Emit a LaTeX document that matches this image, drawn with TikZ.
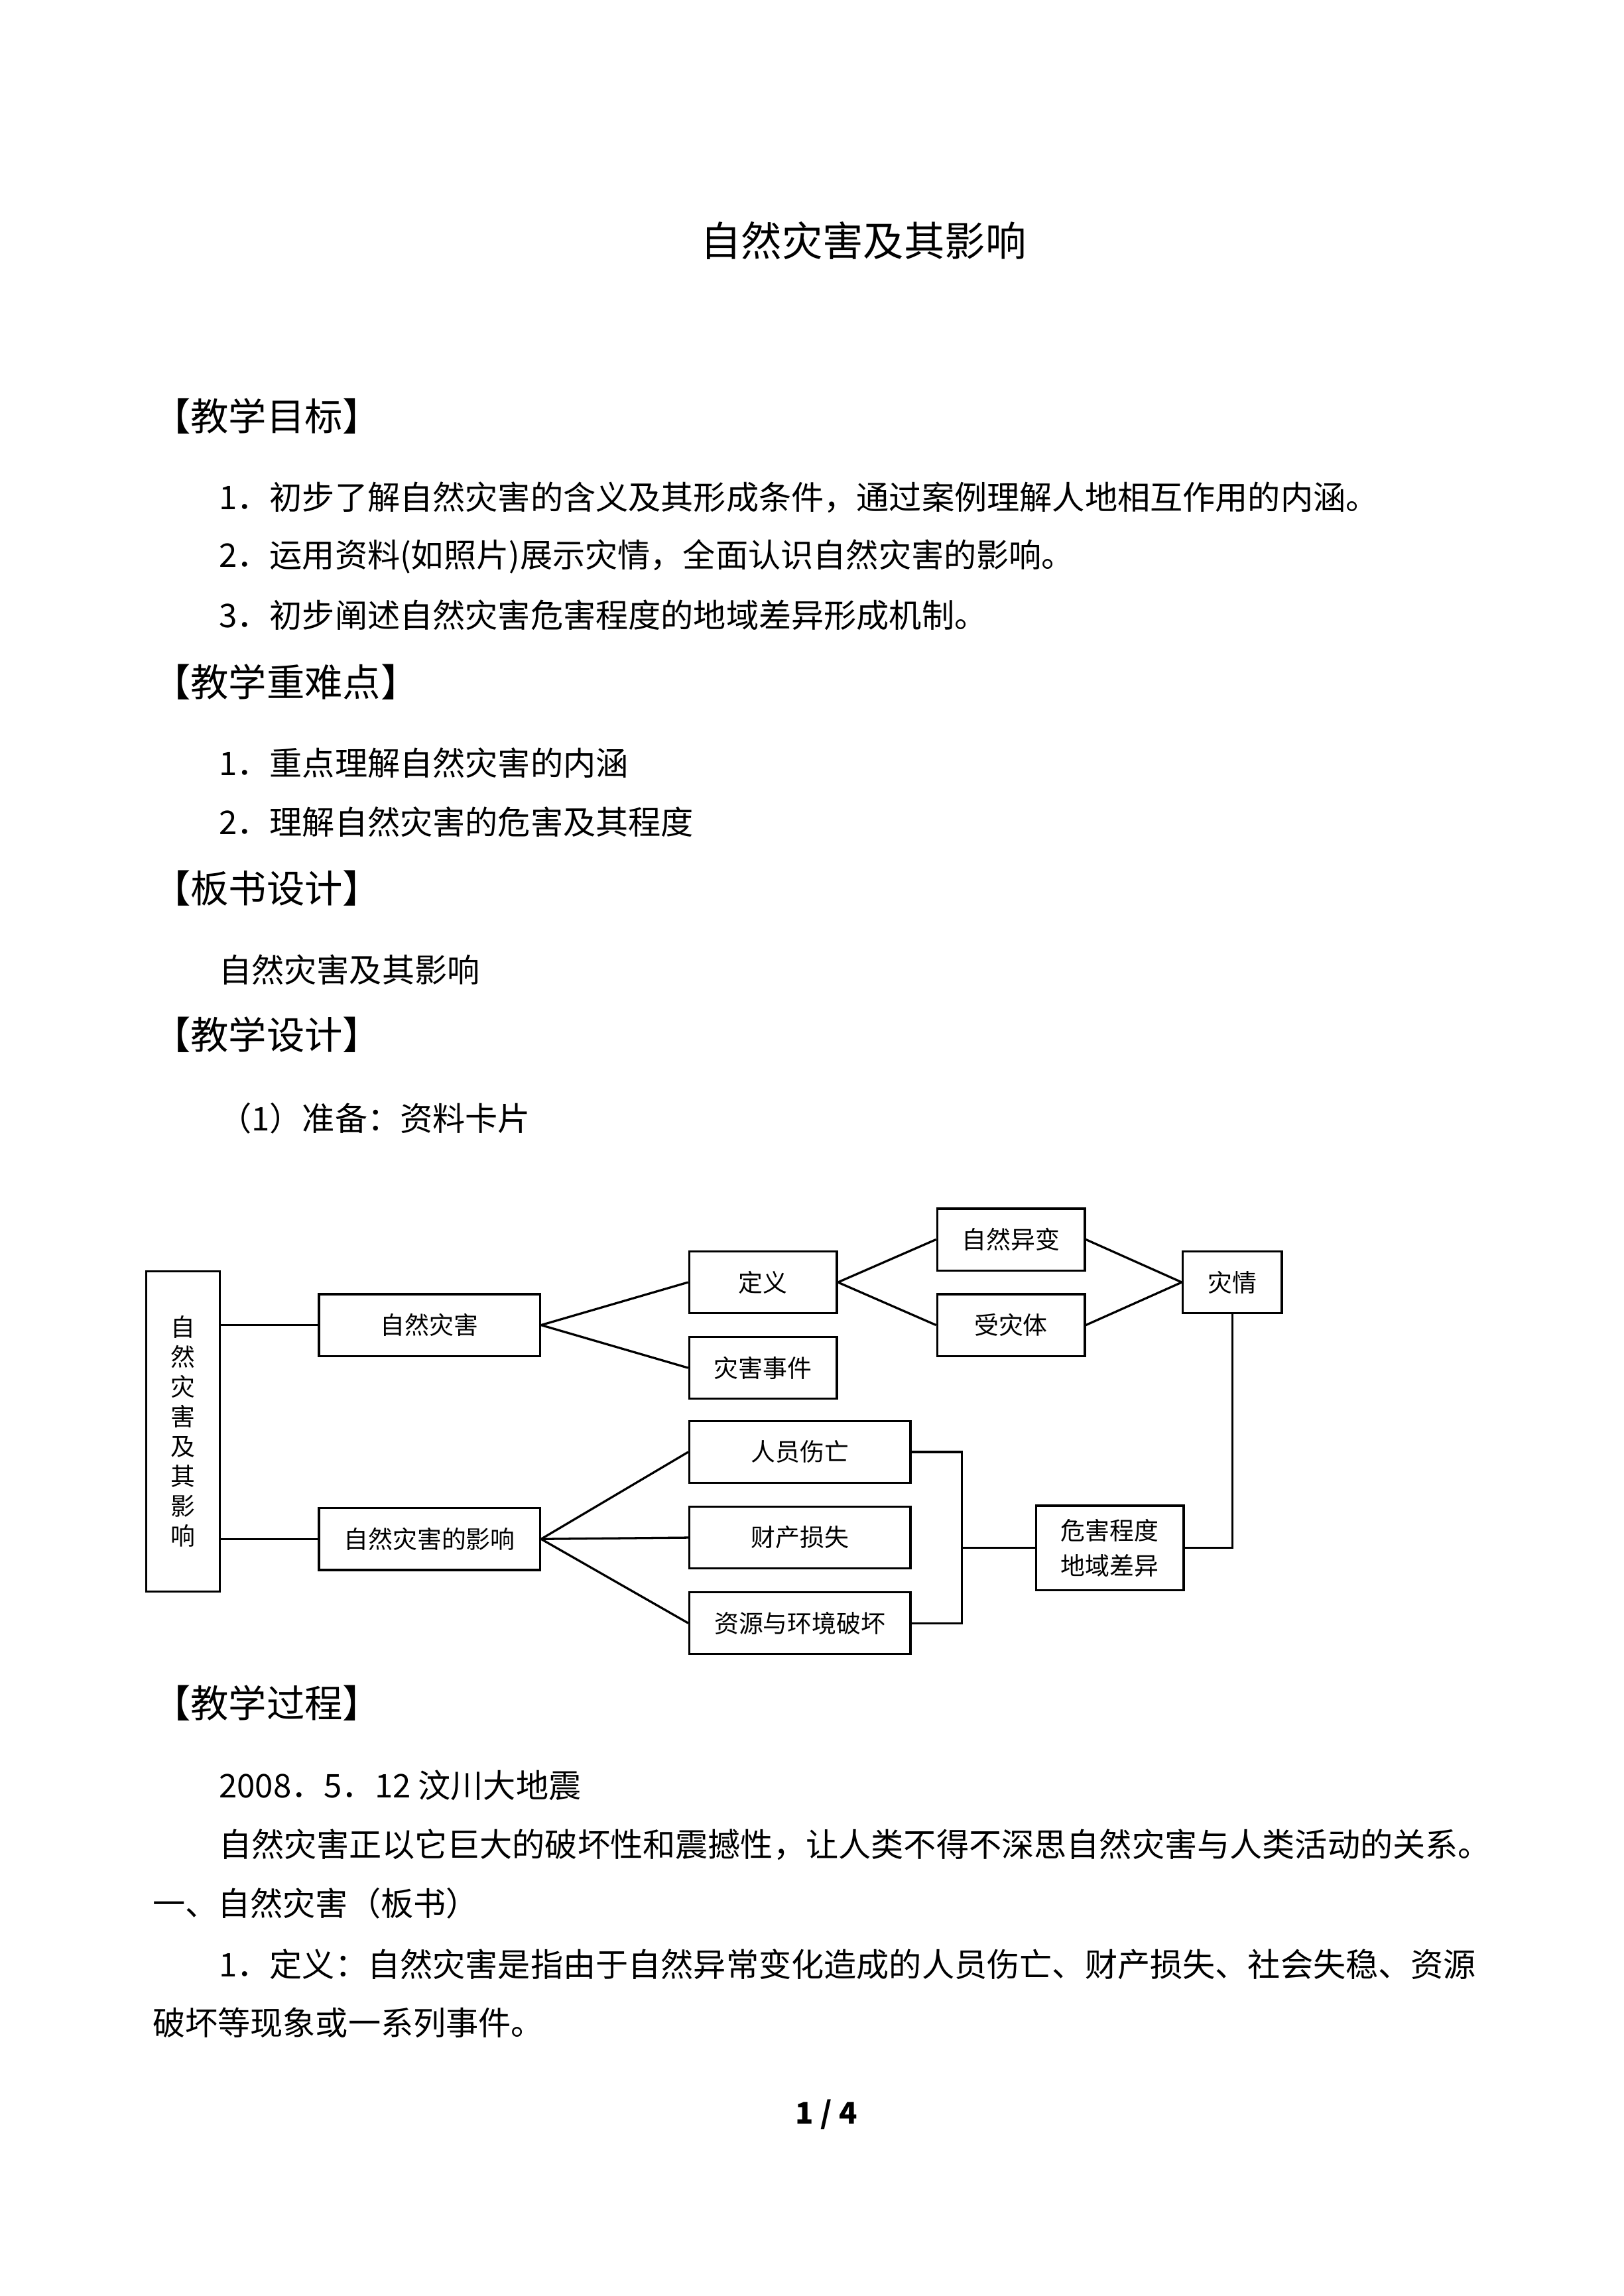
\documentclass[tikz,border=0pt]{standalone}
\usepackage{fontspec}
\setmainfont{Liberation Serif}
\newfontfamily\cjk{Noto Sans CJK SC}
\begin{document}
\begin{tikzpicture}[x=0.01909cm,y=-0.01909cm,
  every node/.style={font=\cjk},
  box/.style={draw=black,thick,minimum height=0.8cm,inner sep=1pt,font=\cjk\fontsize{9}{11}\selectfont},
  txt/.style={anchor=west,inner sep=0pt,font=\cjk\fontsize{12}{14}\selectfont},
  head/.style={anchor=west,inner sep=0pt,font=\cjk\fontsize{14}{16}\selectfont}]
\useasboundingbox (0,0) rectangle (1100,1556);

%page text
\node (title) at (585,163) {\fontsize{15}{18}\selectfont 自然灾害及其影响};
\node[head] (h1) at (103,282) {【教学目标】};
\node[txt] (t1) at (148,337) {1．初步了解自然灾害的含义及其形成条件，通过案例理解人地相互作用的内涵。};
\node[txt] (t2) at (148,377) {2．运用资料(如照片)展示灾情，全面认识自然灾害的影响。};
\node[txt] (t3) at (148,417) {3．初步阐述自然灾害危害程度的地域差异形成机制。};
\node[head] (h2) at (103,462) {【教学重难点】};
\node[txt] (t4) at (148,517) {1．重点理解自然灾害的内涵};
\node[txt] (t5) at (148,557) {2．理解自然灾害的危害及其程度};
\node[head] (h3) at (103,602) {【板书设计】};
\node[txt] (t6) at (148,657) {自然灾害及其影响};
\node[head] (h4) at (103,701) {【教学设计】};
\node[txt] (t7) at (148,758) {（1）准备：资料卡片};
\node[head] (h5) at (103,1154) {【教学过程】};
\node[txt] (t8) at (148,1210) {2008．5．12 汶川大地震};
\node[txt] (t9) at (148,1250) {自然灾害正以它巨大的破坏性和震撼性，让人类不得不深思自然灾害与人类活动的关系。};
\node[txt] (t10) at (103,1290) {一、自然灾害（板书）};
\node[txt] (t11) at (148,1331) {1．定义：自然灾害是指由于自然异常变化造成的人员伤亡、财产损失、社会失稳、资源};
\node[txt] (t12) at (103,1371) {破坏等现象或一系列事件。};
\node (pg) at (560,1433) {\bfseries\fontsize{11}{13}\selectfont 1 / 4};

%boxes
\node[box,minimum width=0.95cm,minimum height=4.14cm,align=center] (root) at (124,970) {自\\然\\灾\\害\\及\\其\\影\\响};
\node[box,minimum width=2.86cm] (zrzh) at (291,898) {自然灾害};
\node[box,minimum width=1.91cm] (dy) at (517,869) {定义};
\node[box,minimum width=1.91cm] (zhsj) at (517,927) {灾害事件};
\node[box,minimum width=1.91cm] (zryb) at (685,840) {自然异变};
\node[box,minimum width=1.91cm] (szt) at (685,898) {受灾体};
\node[box,minimum width=1.28cm] (zq) at (835,869) {灾情};
\node[box,minimum width=2.86cm] (yx) at (291,1043) {自然灾害的影响};
\node[box,minimum width=2.86cm] (rysw) at (542,984) {人员伤亡};
\node[box,minimum width=2.86cm] (ccss) at (542,1042) {财产损失};
\node[box,minimum width=2.86cm] (zyhj) at (542,1100) {资源与环境破坏};
\node[box,minimum width=1.91cm,minimum height=1.09cm,align=center] (whcd) at (752,1049) {危害程度\\[2pt]地域差异};

%edges
\draw[thick] (root.east |- zrzh) -- (zrzh.west);
\draw[thick] (root.east |- yx) -- (yx.west);
\draw[thick] (zrzh.east) -- (dy.west);
\draw[thick] (zrzh.east) -- (zhsj.west);
\draw[thick] (dy.east) -- (zryb.west);
\draw[thick] (dy.east) -- (szt.west);
\draw[thick] (zryb.east) -- (zq.west);
\draw[thick] (szt.east) -- (zq.west);
\draw[thick] (yx.east) -- (rysw.west);
\draw[thick] (yx.east) -- (ccss.west);
\draw[thick] (yx.east) -- (zyhj.west);
\draw[thick] (rysw.east) -- ++(34,0) coordinate (b1) |- (zyhj.east);
\draw[thick] (b1 |- whcd) -- (whcd.west);
\draw[thick] (whcd.east) -| (zq.south);
\end{tikzpicture}
\end{document}
